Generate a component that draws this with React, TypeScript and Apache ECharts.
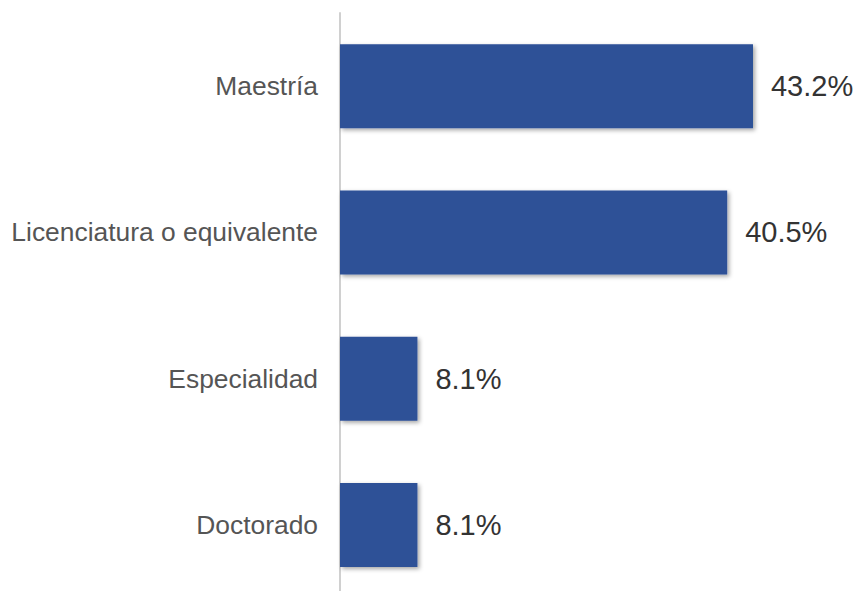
import React, { useEffect, useRef } from "react";
import * as echarts from "echarts";

const categories = ["Doctorado", "Especialidad", "Licenciatura o equivalente", "Maestría"];
const values = [8.1, 8.1, 40.5, 43.2];

export default function App() {
  const ref = useRef<HTMLDivElement>(null);
  useEffect(() => {
    const chart = echarts.init(ref.current!, null, { renderer: "svg" });
    chart.setOption({
      animation: false,
      backgroundColor: "#ffffff",
      grid: { left: 340, top: 13, width: 478, height: 585, containLabel: false },
      xAxis: {
        type: "value",
        min: 0,
        max: 50,
        show: false,
      },
      yAxis: {
        type: "category",
        data: categories,
        axisLine: { show: true, lineStyle: { color: "#d0d0d0", width: 2 } },
        axisTick: { show: false },
        axisLabel: {
          color: "#555555",
          fontSize: 26.4,
          fontFamily: "Liberation Sans, Arial, sans-serif",
          margin: 22,
        },
      },
      series: [
        {
          type: "bar",
          data: values,
          barWidth: 84,
          itemStyle: {
            color: "#2D5197",
            shadowColor: "rgba(0,0,0,0.35)",
            shadowBlur: 4,
            shadowOffsetX: 2,
            shadowOffsetY: 2,
          },
          label: {
            show: true,
            position: "right",
            distance: 18,
            formatter: (p: any) => p.value.toFixed(1) + "%",
            color: "#333333",
            fontSize: 29,
            fontFamily: "Liberation Sans, Arial, sans-serif",
          },
        },
      ],
    });
    return () => chart.dispose();
  }, []);
  return (
    <div
      ref={ref}
      style={{ position: "fixed", left: 0, top: 0, width: 862, height: 600 }}
    />
  );
}
